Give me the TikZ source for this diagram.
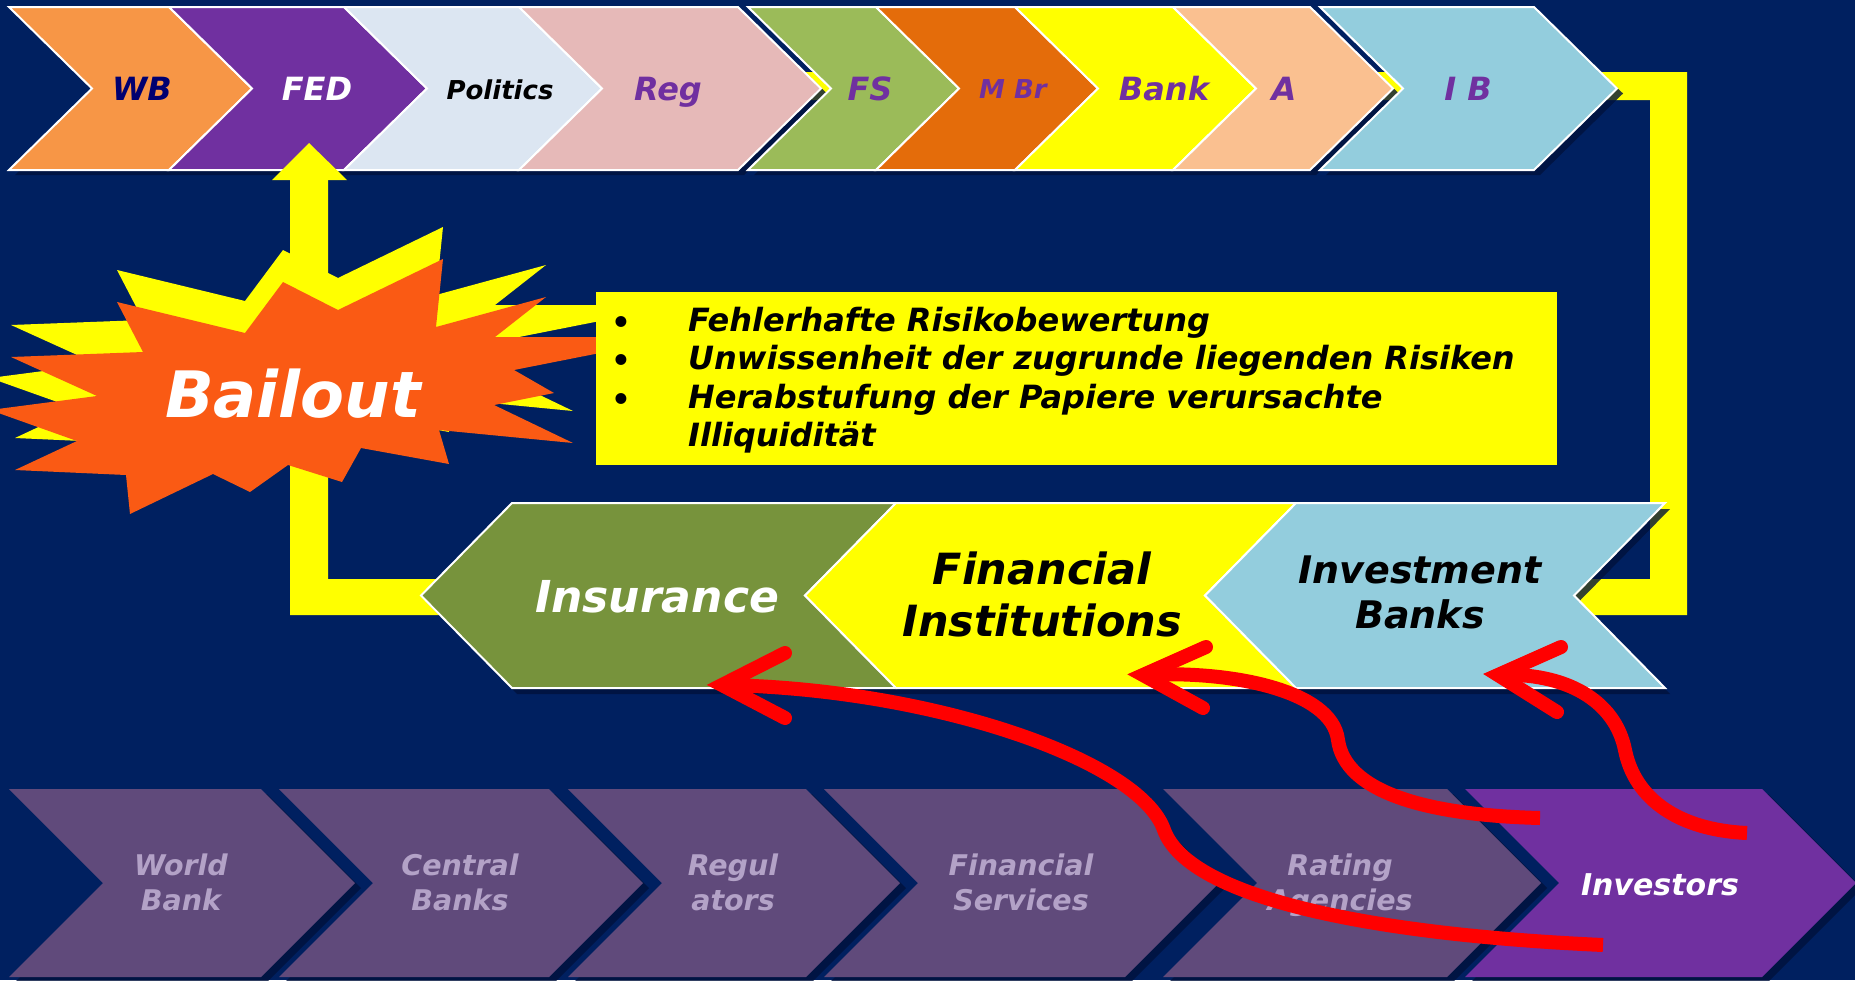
\documentclass[tikz,border=0pt]{standalone}
\usepackage{fontspec}
\setmainfont{DejaVu Sans}
\definecolor{bgnavy}{HTML}{002060}
\definecolor{shadownavy}{HTML}{00123C}
\definecolor{cWB}{HTML}{F79646}
\definecolor{cFED}{HTML}{7030A0}
\definecolor{cPol}{HTML}{DCE6F2}
\definecolor{cReg}{HTML}{E6B9B8}
\definecolor{cFS}{HTML}{9BBB59}
\definecolor{cMBr}{HTML}{E46C0A}
\definecolor{cYel}{HTML}{FFFF00}
\definecolor{cA}{HTML}{FAC090}
\definecolor{cIB}{HTML}{93CDDD}
\definecolor{cIns}{HTML}{77933C}
\definecolor{cBot}{HTML}{604A7B}
\definecolor{cLav}{HTML}{B3A2C7}
\definecolor{cWBtext}{HTML}{000070}
\definecolor{cStar}{HTML}{FA5A14}
\definecolor{cRed}{HTML}{FF0000}
\newcommand\fsz[2]{\fontsize{#1}{#2}\selectfont\bfseries\itshape}
% right-pointing chevron: xl xr ytop ybot depth style
\newcommand\chevR[6]{%
  \fill[chevshadow,xshift=6pt,yshift=-5pt] (#1,#3) -- (#2,#3) -- ({#2+#5},{(#3+#4)/2}) -- (#2,#4) -- (#1,#4) -- ({#1+#5},{(#3+#4)/2}) -- cycle;
  \path[#6] (#1,#3) -- (#2,#3) -- ({#2+#5},{(#3+#4)/2}) -- (#2,#4) -- (#1,#4) -- ({#1+#5},{(#3+#4)/2}) -- cycle;}
% left-pointing chevron: xl xr ytop ybot depth style
\newcommand\chevL[6]{%
  \fill[chevshadow,xshift=5pt,yshift=-6pt] (#1,#3) -- (#2,#3) -- ({#2-#5},{(#3+#4)/2}) -- (#2,#4) -- (#1,#4) -- ({#1-#5},{(#3+#4)/2}) -- cycle;
  \path[#6] (#1,#3) -- (#2,#3) -- ({#2-#5},{(#3+#4)/2}) -- (#2,#4) -- (#1,#4) -- ({#1-#5},{(#3+#4)/2}) -- cycle;}
\newcommand\bangshape[1]{%
  \fill[#1] (117,302) -- (245,333) -- (283,282) -- (338,310) -- (443,259) -- (436,327) -- (546,297) -- (495,337) -- (610,337) -- (610,351) -- (514,370) -- (554,393) -- (494,405) -- (573,443) -- (439,430) -- (449,464) -- (361,448) -- (342,482) -- (288,465) -- (250,492) -- (213,474) -- (130,514) -- (126,475) -- (15,470) -- (77,441) -- (-10,410) -- (97,396) -- (11,357) -- (143,352) -- cycle;}
\tikzset{
  chevshadow/.style={fill=shadownavy, opacity=0.8},
  topchev/.style={fill=#1, draw=white, line width=2pt, line join=miter},
  midchev/.style={fill=#1, draw=white, line width=2pt, line join=miter},
  botchev/.style={fill=#1},
  toplbl/.style={inner sep=0, anchor=base, font={\fsz{32}{38}}},
  botlbl/.style={inner sep=0, anchor=north, align=center, font={\fsz{28.5}{35}}, text=cLav},
  bullettext/.style={inner sep=0, anchor=base west, font={\fsz{32}{38}}, text=black},
  bulletdot/.style={inner sep=0, anchor=base, font={\fontsize{31}{38}\selectfont\bfseries}, text=black},
  redshaft/.style={draw=cRed, line width=14pt, line cap=butt},
  redhead/.style={draw=cRed, line width=14pt, line cap=round, line join=miter},
}
\begin{document}
\begin{tikzpicture}[x=1pt,y=-1pt]
\fill[bgnavy] (0,0) rectangle (1855,980);
\useasboundingbox (0,0) rectangle (1855,980);

% yellow loop (behind rows)
\fill[cYel] (700,72) -- (1687,72) -- (1687,615) -- (290,615) -- (290,180) -- (328,180) -- (328,579) -- (1650,579) -- (1650,100) -- (700,100) -- cycle;

% top row
\chevR{9}{169}{7}{170}{83}{topchev=cWB}
\chevR{169}{344}{7}{170}{83}{topchev=cFED}
\chevR{344}{519}{7}{170}{83}{topchev=cPol}
\chevR{519}{738}{7}{170}{83}{topchev=cReg}
\chevR{748}{876}{7}{170}{83}{topchev=cFS}
\chevR{876}{1015}{7}{170}{83}{topchev=cMBr}
\chevR{1015}{1173}{7}{170}{83}{topchev=cYel}
\chevR{1173}{1310}{7}{170}{83}{topchev=cA}
\chevR{1320}{1534}{7}{170}{83}{topchev=cIB}

\node[toplbl, text=cWBtext] (wb) at (142,100) {WB};
\node[toplbl, text=white] (fed) at (317,100) {FED};
\node[toplbl, text=black, font={\fsz{26}{30}}] (pol) at (500,99) {Politics};
\node[toplbl, text=cFED] (reg) at (668,100) {Reg};
\node[toplbl, text=cFED] (fs) at (870,100) {FS};
\node[toplbl, text=cFED, font={\fsz{26}{30}}] (mbr) at (1013,98) {M Br};
\node[toplbl, text=cFED] (bank) at (1164,100) {Bank};
\node[toplbl, text=cFED] (a) at (1284,100) {A};
\node[toplbl, text=cFED] (ib) at (1468,100) {I B};

% yellow arrow head over FED
\fill[cYel] (272,180) -- (309,143) -- (347,180) -- cycle;

% middle row
\chevL{512}{896}{503}{688}{91}{midchev=cIns}
\chevL{896}{1296}{503}{688}{91}{midchev=cYel}
\chevL{1296}{1665}{503}{688}{91}{midchev=cIB}

\node[inner sep=0, anchor=base, font={\fsz{44}{52}}, text=white] (ins) at (657,612) {Insurance};
\node[inner sep=0, anchor=north, align=center, font={\fsz{43}{52}}, text=black] (fin) at (1042,552) {Financial\\Institutions};
\node[inner sep=0, anchor=north, align=center, font={\fsz{38}{45}}, text=black] (invb) at (1420,556) {Investment\\Banks};

% bottom row
\chevR{9}{261}{789}{977}{94}{botchev=cBot}
\chevR{279}{549}{789}{977}{94}{botchev=cBot}
\chevR{568}{806}{789}{977}{94}{botchev=cBot}
\chevR{824}{1125}{789}{977}{94}{botchev=cBot}
\chevR{1163}{1447}{789}{977}{94}{botchev=cBot}
\chevR{1465}{1762}{789}{977}{94}{botchev=cFED}

\node[botlbl] (worldbank) at (181,854) {World\\Bank};
\node[botlbl] (central) at (460,854) {Central\\Banks};
\node[botlbl] (regul) at (733,854) {Regul\\ators};
\node[botlbl] (finserv) at (1021,854) {Financial\\Services};
\node[botlbl] (rating) at (1340,854) {Rating\\Agencies};
\node[inner sep=0, anchor=base, font={\fsz{30}{35}}, text=white] (investors) at (1660,895) {Investors};

% bailout starburst
\bangshape{cYel, yshift=32pt}
\bangshape{cStar}
\node[inner sep=0, anchor=base, font={\fsz{64}{70}}, text=white] (bailout) at (293,417) {Bailout};

% bullet box
\node[fill=cYel, inner sep=0, minimum width=961pt, minimum height=173pt, anchor=north west] (box) at (596,292) {};
\node[bulletdot] (d1) at (621,333) {•};
\node[bulletdot] (d2) at (621,371.5) {•};
\node[bulletdot] (d3) at (621,410) {•};
\node[bullettext] (l1) at (688,331) {Fehlerhafte Risikobewertung};
\node[bullettext] (l2) at (688,369.5) {Unwissenheit der zugrunde liegenden Risiken};
\node[bullettext] (l3) at (688,408) {Herabstufung der Papiere verursachte};
\node[bullettext] (l4) at (688,446.5) {Illiquidität};

% red arrows
\coordinate (a1s) at (1603,945);
\coordinate (a1m) at (1164,830);
\coordinate (a1t) at (722,685);
\coordinate (a1u) at (785,653);
\coordinate (a1l) at (785,718);
\coordinate (a2s) at (1540,818);
\coordinate (a2m) at (1338,740);
\coordinate (a2t) at (1143,675);
\coordinate (a2u) at (1206,647);
\coordinate (a2l) at (1203,708);
\coordinate (a3s) at (1747,833);
\coordinate (a3m) at (1625,750);
\coordinate (a3t) at (1498,675);
\coordinate (a3u) at (1561,647);
\coordinate (a3l) at (1557,712);

\draw[redshaft] (a1s) .. controls (1380,935) and (1190,900) .. (a1m) .. controls (1140,760) and (930,688) .. (a1t);
\draw[redhead] (a1u) -- (a1t) -- (a1l);
\draw[redshaft] (a2s) .. controls (1420,815) and (1345,790) .. (a2m) .. controls (1332,690) and (1230,670) .. (a2t);
\draw[redhead] (a2u) -- (a2t) -- (a2l);
\draw[redshaft] (a3s) .. controls (1680,830) and (1635,800) .. (a3m) .. controls (1615,700) and (1565,672) .. (a3t);
\draw[redhead] (a3u) -- (a3t) -- (a3l);
\end{tikzpicture}
\end{document}
